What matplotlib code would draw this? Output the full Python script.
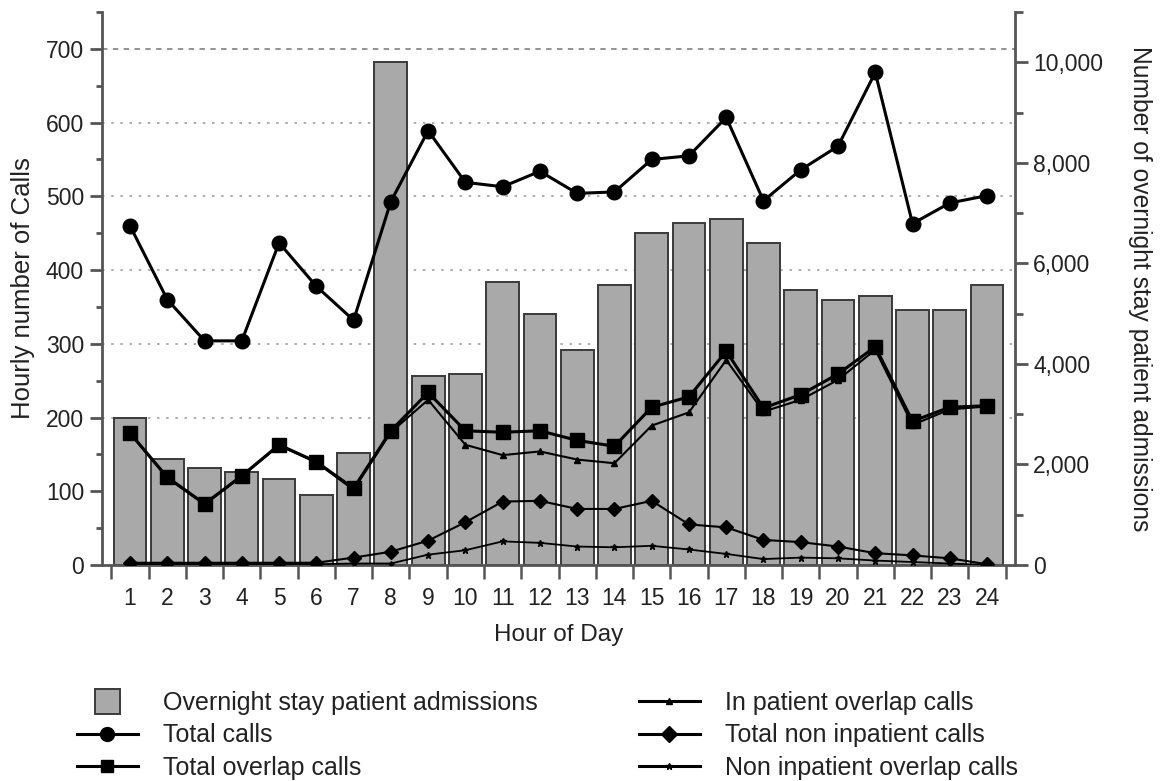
import matplotlib.pyplot as plt
from matplotlib.ticker import FuncFormatter, FixedLocator
from matplotlib.lines import Line2D

plt.rcParams['font.family'] = ['Liberation Sans', 'DejaVu Sans']

hours = list(range(1, 25))
hour_labels = [str(h) for h in hours]

# right axis: overnight stay patient admissions
admissions = [2920, 2100, 1920, 1840, 1710, 1400, 2220, 10000, 3760, 3800, 5630, 5000,
              4280, 5560, 6610, 6810, 6880, 6400, 5470, 5280, 5350, 5080, 5080, 5570]

# left axis: hourly calls
total_calls = [460, 360, 304, 304, 437, 378, 332, 493, 589, 519, 513, 534,
               504, 506, 550, 555, 607, 494, 536, 568, 668, 463, 491, 501]
total_overlap = [179, 119, 83, 121, 163, 140, 104, 182, 234, 182, 180, 182,
                 169, 161, 214, 228, 290, 213, 231, 259, 296, 195, 214, 216]
inpatient_overlap = [178, 118, 82, 120, 162, 139, 102, 180, 224, 163, 149, 154,
                     143, 138, 189, 207, 278, 208, 224, 251, 292, 190, 211, 215]
total_non_inpatient = [3, 3, 3, 3, 3, 3, 10, 18, 33, 58, 86, 87,
                       76, 76, 87, 55, 51, 34, 31, 25, 16, 13, 9, 1]
non_inpatient_overlap = [1, 1, 1, 1, 1, 1, 2, 2, 14, 20, 32, 30,
                         25, 24, 26, 21, 15, 8, 10, 9, 6, 4, 2, 0]

spine_col = '#555555'
txt_col = '#222222'
bar_face = '#a9a9a9'
bar_edge = '#3a3a3a'

fig = plt.figure(figsize=(11.6, 7.81), dpi=100)
ax = fig.add_axes([0.088, 0.2766, 0.787, 0.708])
ax2 = ax.twinx()
ax3 = ax.twinx()
ax.set_zorder(0)
ax2.set_zorder(1)
ax3.set_zorder(2)
ax2.patch.set_visible(False)
ax3.patch.set_visible(False)
ax3.xaxis.set_visible(True)

for a in (ax, ax2, ax3):
    a.set_xlim(0.25, 24.75)
    for s in ('top', 'left', 'right', 'bottom'):
        a.spines[s].set_visible(False)
ax.set_ylim(0, 750)
ax3.set_ylim(0, 750)
ax2.set_ylim(0, 11000)

# grid lines (left scale), behind the bars
for v in [200, 300, 400, 500, 600]:
    ax.axhline(v, color='#a0a0a0', lw=1.2, ls=(0, (1.5, 4)), zorder=0)
ax.axhline(700, color='#8a8a8a', lw=1.3, ls=(0, (3, 3)), zorder=0)

# bars
ax2.bar(hours, admissions, width=0.88, color=bar_face, edgecolor=bar_edge,
        linewidth=1.4, zorder=2)

# lines
ax3.plot(hours, total_calls, color='black', lw=2.2, marker='o', ms=10.5, zorder=5)
ax3.plot(hours, total_overlap, color='black', lw=2.2, marker='s', ms=10.5, zorder=5)
ax3.plot(hours, inpatient_overlap, color='black', lw=1.5, marker='^', ms=5, zorder=4)
ax3.plot(hours, total_non_inpatient, color='black', lw=1.5, marker='D', ms=7, zorder=4)
ax3.plot(hours, non_inpatient_overlap, color='black', lw=1.3, marker='*', ms=5, zorder=4)

# spines
ax.spines['left'].set_visible(True)
ax.spines['left'].set_color(spine_col)
ax.spines['left'].set_linewidth(2)
ax2.spines['right'].set_visible(True)
ax2.spines['right'].set_color(spine_col)
ax2.spines['right'].set_linewidth(2)
ax3.spines['bottom'].set_visible(True)
ax3.spines['bottom'].set_color(spine_col)
ax3.spines['bottom'].set_linewidth(2)

# left y axis
ax.set_yticks(range(0, 701, 100))
ax.yaxis.set_minor_locator(FixedLocator([50, 150, 250, 350, 450, 550, 650, 750]))
ax.tick_params(axis='y', which='major', length=9, width=2, color=spine_col,
               labelsize=16.5, labelcolor=txt_col, pad=4)
ax.tick_params(axis='y', which='minor', length=4, width=2, color=spine_col)
ax.set_ylabel('Hourly number of Calls', fontsize=18.5, color=txt_col, labelpad=8)

# right y axis
ax2.set_yticks(range(0, 10001, 2000))
ax2.yaxis.set_minor_locator(FixedLocator([1000, 3000, 5000, 7000, 9000, 11000]))
ax2.yaxis.set_major_formatter(FuncFormatter(lambda v, p: f'{int(v):,}'))
ax2.tick_params(axis='y', which='major', length=9, width=2, color=spine_col,
                labelsize=16.5, labelcolor=txt_col, pad=4)
ax2.tick_params(axis='y', which='minor', length=6, width=2, color=spine_col)
ax2.set_ylabel('Number of overnight stay patient admissions', fontsize=17.7,
               color=txt_col, rotation=270, labelpad=35)

# x axis
for a in (ax, ax2):
    a.tick_params(axis='x', which='both', bottom=False, labelbottom=False)
ax3.set_yticks([])
ax3.set_xticks(hours)
ax3.set_xticklabels(hour_labels)
ax3.xaxis.set_minor_locator(FixedLocator([h + 0.5 for h in range(0, 25)]))
ax3.tick_params(axis='x', which='major', length=0, labelsize=16.5,
                labelcolor=txt_col, pad=16)
ax3.tick_params(axis='x', which='minor', length=10, width=1.8, color=spine_col)
ax3.set_xlabel('Hour of Day', fontsize=17.5, color=txt_col, labelpad=10)

# legend, two columns placed separately
leg_kw = dict(loc='upper left', frameon=False, fontsize=18, handlelength=2.45,
              handletextpad=1.0, labelspacing=0.33, borderpad=0, labelcolor=txt_col)
h1 = [
    Line2D([], [], ls='none', marker='s', ms=18, markerfacecolor=bar_face,
           markeredgecolor=bar_edge, markeredgewidth=1.4),
    Line2D([], [], color='black', lw=2.2, marker='o', ms=10),
    Line2D([], [], color='black', lw=2.2, marker='s', ms=9),
]
l1 = ['Overnight stay patient admissions', 'Total calls', 'Total overlap calls']
h2 = [
    Line2D([], [], color='black', lw=2.2, marker='^', ms=5),
    Line2D([], [], color='black', lw=2.2, marker='D', ms=8),
    Line2D([], [], color='black', lw=2.2, marker='*', ms=5),
]
l2 = ['In patient overlap calls', 'Total non inpatient calls',
      'Non inpatient overlap calls']
fig.legend(h1, l1, bbox_to_anchor=(64 / 1160, 0.131), **leg_kw)
fig.legend(h2, l2, bbox_to_anchor=(626 / 1160, 0.131), **leg_kw)

plt.savefig('out.png', dpi=100)
plt.close()
